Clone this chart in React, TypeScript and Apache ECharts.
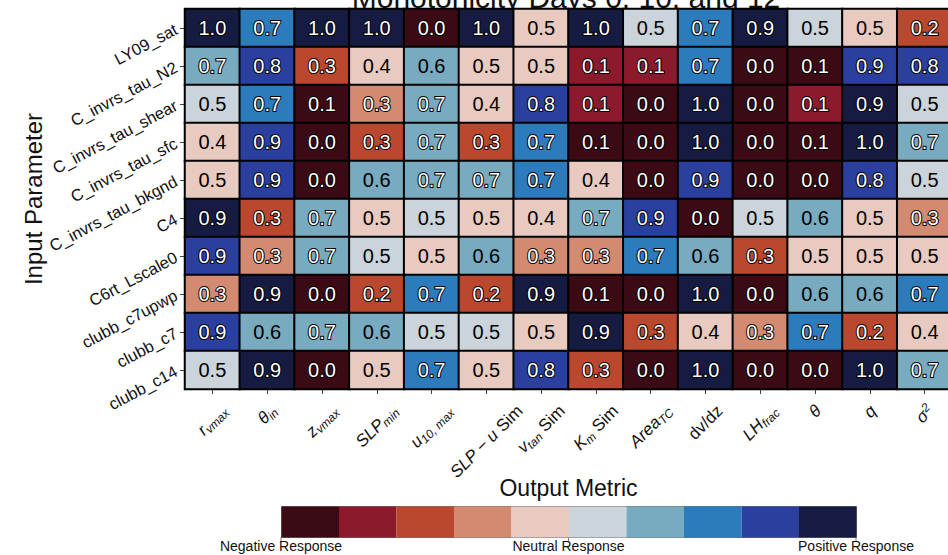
import React, { useEffect, useRef } from 'react';
import * as echarts from 'echarts';

const titleText = 'Monotonicity Days 0, 10, and 12';
const xAxisTitle = 'Output Metric';
const yAxisTitle = 'Input Parameter';

const yCategories = [
  'LY09_sat',
  'C_invrs_tau_N2',
  'C_invrs_tau_shear',
  'C_invrs_tau_sfc',
  'C_invrs_tau_bkgnd',
  'C4',
  'C6rt_Lscale0',
  'clubb_c7upwp',
  'clubb_c7',
  'clubb_c14',
];

const xCategories = [
  'r_vmax', 'theta_in', 'z_vmax', 'SLP_min', 'u_10,max', 'SLP - u Sim', 'v_tan Sim',
  'K_m Sim', 'Area_TC', 'dv/dz', 'LH_frac', 'theta', 'q', 'sigma^2',
];

// m = math italic, s = subscript, p = superscript, r = roman
const xLabelParts: [string, string][][] = [
  [['m', 'r'], ['s', 'vmax']],
  [['m', 'θ'], ['s', 'in']],
  [['m', 'z'], ['s', 'vmax']],
  [['m', 'SLP'], ['s', 'min']],
  [['m', 'u'], ['s', '10, max']],
  [['m', 'SLP − u'], ['r', ' Sim']],
  [['m', 'v'], ['s', 'tan'], ['r', ' Sim']],
  [['m', 'K'], ['s', 'm'], ['r', ' Sim']],
  [['m', 'Area'], ['s', 'TC']],
  [['r', 'dv/dz']],
  [['m', 'LH'], ['s', 'frac']],
  [['m', 'θ']],
  [['m', 'q']],
  [['m', 'σ'], ['p', '2']],
];

const row0 = [1.0, 0.72, 1.0, 0.98, 0.02, 0.98, 0.47, 1.0, 0.53, 0.72, 0.92, 0.52, 0.48, 0.22];
const row1 = [0.67, 0.82, 0.27, 0.42, 0.62, 0.48, 0.47, 0.12, 0.11, 0.71, 0.03, 0.07, 0.87, 0.83];
const row2 = [0.52, 0.72, 0.08, 0.32, 0.67, 0.43, 0.82, 0.11, 0.03, 1.0, 0.0, 0.11, 0.91, 0.53];
const row3 = [0.42, 0.87, 0.0, 0.28, 0.67, 0.28, 0.71, 0.08, 0.0, 1.0, 0.0, 0.07, 1.0, 0.67];
const row4 = [0.47, 0.88, 0.0, 0.62, 0.66, 0.67, 0.72, 0.42, 0.0, 0.88, 0.0, 0.0, 0.82, 0.52];
const row5 = [0.92, 0.28, 0.67, 0.47, 0.52, 0.48, 0.42, 0.67, 0.87, 0.0, 0.52, 0.62, 0.48, 0.32];
const row6 = [0.88, 0.32, 0.67, 0.52, 0.47, 0.62, 0.32, 0.33, 0.72, 0.62, 0.28, 0.47, 0.48, 0.47];
const row7 = [0.32, 0.92, 0.0, 0.22, 0.72, 0.23, 0.92, 0.08, 0.0, 1.0, 0.0, 0.62, 0.63, 0.71];
const row8 = [0.88, 0.62, 0.67, 0.62, 0.52, 0.53, 0.47, 0.92, 0.28, 0.42, 0.32, 0.72, 0.22, 0.42];
const row9 = [0.52, 0.92, 0.0, 0.47, 0.72, 0.47, 0.82, 0.28, 0.0, 1.0, 0.0, 0.0, 1.0, 0.67];
const rows = [row0, row1, row2, row3, row4, row5, row6, row7, row8, row9];

const binEdges = [0, 0.1, 0.2, 0.3, 0.4, 0.5, 0.6, 0.7, 0.8, 0.9, 1.0];
const binColors = [
  '#3b0a14', '#8a1a2c', '#b9482f', '#d28a70', '#e9cac1',
  '#cbd4da', '#78abc0', '#2b7bbd', '#2b3f9f', '#161b42',
];
const darkTextLabels = ['0.4', '0.5', '0.6'];
const colorbarLabels = ['Negative Response', 'Neutral Response', 'Positive Response'];

const FONT = '"Liberation Sans", Arial, sans-serif';

export default function App() {
  const ref = useRef<HTMLDivElement>(null);

  useEffect(() => {
    document.body.style.margin = '0';
    if (!ref.current) return;
    const chart = echarts.init(ref.current, null, { renderer: 'svg' });

    const canvas = document.createElement('canvas');
    const ctx = canvas.getContext('2d')!;
    const fontFor: Record<string, string> = {
      m: `italic 17px ${FONT}`,
      r: `17px ${FONT}`,
      s: `italic 12px ${FONT}`,
      p: `italic 12px ${FONT}`,
    };
    const labelWidth = (parts: [string, string][]) =>
      parts.reduce((acc, [k, t]) => {
        ctx.font = fontFor[k];
        return acc + ctx.measureText(t).width;
      }, 0);
    const lineH = 20;

    const xData = xCategories.map((name, i) => {
      const L = labelWidth(xLabelParts[i]);
      const p = (L + lineH) / 2;
      return {
        value: name,
        textStyle: { padding: [p, p, 0, 0], align: 'center', verticalAlign: 'middle' },
      };
    });

    const data: any[] = [];
    rows.forEach((row, r) => {
      row.forEach((v, c) => {
        const disp = v.toFixed(1);
        const dark = darkTextLabels.includes(disp);
        data.push({
          value: [c, r, v],
          label: dark
            ? { color: '#000', textBorderWidth: 0 }
            : { color: '#fff', textBorderColor: '#000', textBorderWidth: 2 },
        });
      });
    });

    const pieces = binColors.map((color, i) =>
      i === binColors.length - 1
        ? { gte: binEdges[i], lte: binEdges[i + 1], color }
        : { gte: binEdges[i], lt: binEdges[i + 1], color }
    );

    const barLeft = 281;
    const barW = 57.5;
    const barTop = 506;
    const barH = 31;
    const barRight = barLeft + barW * binColors.length;
    const barMid = (barLeft + barRight) / 2;

    chart.setOption({
      animation: false,
      textStyle: { fontFamily: FONT },
      grid: {
        left: 185,
        top: 9,
        width: 767,
        height: 380,
        outerBoundsMode: 'none',
        containLabel: false,
      },
      xAxis: {
        type: 'category',
        data: xData,
        position: 'bottom',
        name: xAxisTitle,
        nameLocation: 'middle',
        nameGap: 87,
        nameMoveOverlap: false,
        nameTextStyle: { fontSize: 23, color: '#111', fontFamily: FONT },
        axisLine: { show: false },
        axisTick: { show: true, alignWithLabel: true, length: 5, lineStyle: { color: '#444' } },
        splitLine: { show: false },
        splitArea: { show: false },
        axisLabel: {
          interval: 0,
          rotate: 45,
          align: 'center',
          verticalAlign: 'middle',
          margin: 12,
          color: '#111',
          fontFamily: FONT,
          formatter: (_v: string, i: number) =>
            xLabelParts[i].map(([k, t]) => `{${k}|${t}}`).join(''),
          rich: {
            m: { fontSize: 17, fontStyle: 'italic', lineHeight: lineH, color: '#111', fontFamily: FONT },
            r: { fontSize: 17, lineHeight: lineH, color: '#111', fontFamily: FONT },
            s: { fontSize: 12, fontStyle: 'italic', lineHeight: 9, verticalAlign: 'bottom', color: '#111', fontFamily: FONT },
            p: { fontSize: 12, fontStyle: 'italic', lineHeight: 9, verticalAlign: 'top', color: '#111', fontFamily: FONT },
          },
        },
      },
      yAxis: {
        type: 'category',
        data: yCategories,
        inverse: true,
        name: yAxisTitle,
        nameLocation: 'middle',
        nameRotate: 90,
        nameGap: 140,
        nameMoveOverlap: false,
        nameTextStyle: { fontSize: 24, color: '#111', fontFamily: FONT },
        axisLine: { show: false },
        axisTick: { show: true, alignWithLabel: true, length: 5, lineStyle: { color: '#444' } },
        splitLine: { show: false },
        splitArea: { show: false },
        axisLabel: {
          interval: 0,
          rotate: 28,
          margin: 9,
          fontSize: 16.5,
          color: '#111',
          fontFamily: FONT,
        },
      },
      visualMap: {
        type: 'piecewise',
        seriesIndex: 0,
        orient: 'horizontal',
        left: barLeft,
        top: barTop,
        padding: 0,
        itemWidth: barW,
        itemHeight: barH,
        itemGap: 0,
        itemSymbol: 'rect',
        showLabel: false,
        selectedMode: false,
        hoverLink: false,
        borderColor: '#777',
        borderWidth: 1,
        pieces,
      },
      series: [
        {
          type: 'heatmap',
          data,
          itemStyle: { borderColor: '#000', borderWidth: 2 },
          emphasis: { disabled: true },
          label: {
            show: true,
            fontSize: 20,
            fontFamily: FONT,
            formatter: (p: any) => (p.value[2] as number).toFixed(1),
          },
        },
      ],
      graphic: {
        elements: [
          {
            type: 'text',
            x: 566,
            y: 12,
            style: {
              text: titleText,
              fontSize: 30,
              fontFamily: FONT,
              fill: '#111',
              align: 'center',
              verticalAlign: 'bottom',
            },
          },
          ...[barLeft, barMid, barRight].map((x) => ({
            type: 'line',
            shape: { x1: x, y1: barTop + barH, x2: x, y2: barTop + barH + 5 },
            style: { stroke: '#777', lineWidth: 1 },
          })),
          ...[barLeft, barMid, barRight].map((x, i) => ({
            type: 'text',
            x,
            y: 546,
            style: {
              text: colorbarLabels[i],
              fontSize: 14,
              fontFamily: FONT,
              fill: '#111',
              align: 'center',
              verticalAlign: 'middle',
            },
          })),
        ],
      },
    });

    return () => chart.dispose();
  }, []);

  return (
    <div
      ref={ref}
      style={{ width: 948, height: 555, position: 'absolute', left: 0, top: 0 }}
    />
  );
}
